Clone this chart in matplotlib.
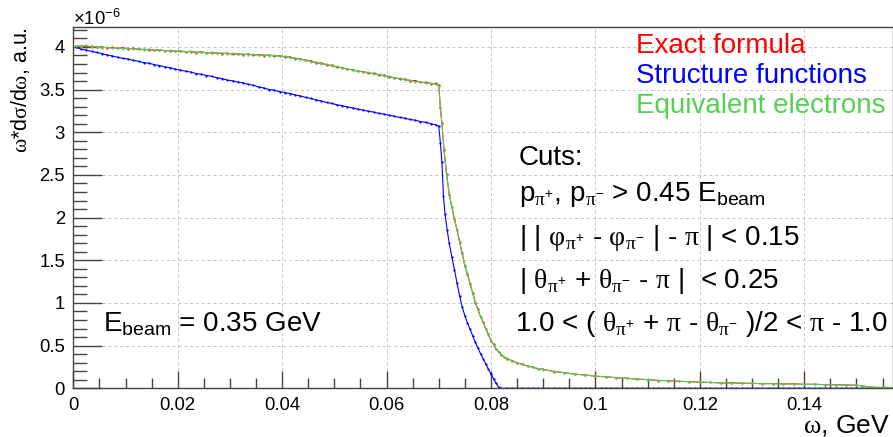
"""
plot.py - omega*dsigma/domega vs omega: exact formula / structure functions /
equivalent electrons (ROOT-like styling).
"""

import numpy as np
import matplotlib
matplotlib.use("Agg")
import matplotlib.pyplot as plt
from matplotlib.ticker import MultipleLocator, FuncFormatter

plt.rcParams["font.family"] = ["Liberation Sans", "DejaVu Sans"]
plt.rcParams["mathtext.fontset"] = "custom"
plt.rcParams["mathtext.rm"] = "Liberation Serif"
plt.rcParams["mathtext.sf"] = "Liberation Sans"
plt.rcParams["mathtext.it"] = "Liberation Sans:italic"
plt.rcParams["mathtext.bf"] = "Liberation Sans:bold"
plt.rcParams["mathtext.default"] = "sf"

# --- data (units of 1e-6, a.u.) ---
# flat part, bin centres 0.0005 ... 0.0695
FLAT_X = np.arange(0.0005, 0.0700, 0.001)

GREEN_FLAT = [4.012, 4.005, 4.018, 3.998, 4.002, 3.990, 3.996, 3.985, 3.992, 3.980,
              3.984, 3.975, 3.978, 3.968, 3.974, 3.962, 3.966, 3.955, 3.961, 3.950,
              3.954, 3.944, 3.949, 3.938, 3.942, 3.931, 3.937, 3.925, 3.930, 3.919,
              3.924, 3.913, 3.918, 3.908, 3.913, 3.903, 3.908, 3.898, 3.900, 3.888,
              3.889, 3.874, 3.871, 3.853, 3.848, 3.828, 3.823, 3.802, 3.797, 3.776,
              3.771, 3.750, 3.746, 3.726, 3.723, 3.704, 3.701, 3.682, 3.679, 3.660,
              3.656, 3.633, 3.632, 3.613, 3.612, 3.592, 3.593, 3.574, 3.576, 3.562]

RED_FLAT = [4.008, 4.010, 4.001, 4.006, 3.995, 4.000, 3.989, 3.994, 3.983, 3.989,
            3.977, 3.983, 3.972, 3.970, 3.966, 3.960, 3.969, 3.953, 3.957, 3.948,
            3.952, 3.941, 3.946, 3.934, 3.945, 3.928, 3.932, 3.929, 3.921, 3.927,
            3.915, 3.921, 3.910, 3.916, 3.905, 3.911, 3.899, 3.905, 3.893, 3.896,
            3.882, 3.882, 3.864, 3.861, 3.841, 3.836, 3.815, 3.810, 3.789, 3.784,
            3.763, 3.758, 3.738, 3.734, 3.715, 3.712, 3.693, 3.690, 3.671, 3.668,
            3.646, 3.641, 3.624, 3.622, 3.603, 3.606, 3.585, 3.584, 3.569, 3.572]

BLUE_FLAT = [3.995, 3.975, 3.962, 3.948, 3.936, 3.922, 3.906, 3.893, 3.881, 3.866,
             3.858, 3.842, 3.831, 3.816, 3.809, 3.793, 3.781, 3.766, 3.757, 3.740,
             3.729, 3.716, 3.706, 3.688, 3.681, 3.664, 3.656, 3.639, 3.629, 3.611,
             3.603, 3.588, 3.579, 3.561, 3.551, 3.531, 3.519, 3.501, 3.493, 3.476,
             3.466, 3.454, 3.437, 3.426, 3.408, 3.396, 3.378, 3.366, 3.349, 3.338,
             3.322, 3.312, 3.296, 3.286, 3.270, 3.261, 3.246, 3.237, 3.222, 3.213,
             3.198, 3.189, 3.174, 3.165, 3.150, 3.141, 3.126, 3.116, 3.099, 3.087]

# threshold drop and tail (exact formula / equivalent electrons)
TAIL_X = [0.0700, 0.0703, 0.0706, 0.0710, 0.0715, 0.0720, 0.0725, 0.0730, 0.0735, 0.0740,
          0.0745, 0.0750, 0.0755, 0.0760, 0.0765, 0.0770, 0.0775, 0.0780, 0.0785, 0.0790,
          0.0795, 0.0800, 0.0805, 0.0810, 0.0815, 0.0820, 0.0825, 0.0830,
          0.0840, 0.0850, 0.0860, 0.0870, 0.0880, 0.0890, 0.0900,
          0.092, 0.094, 0.096, 0.098, 0.100, 0.102, 0.104, 0.106, 0.108, 0.110,
          0.112, 0.114, 0.116, 0.118, 0.120, 0.122, 0.124, 0.126, 0.128, 0.130,
          0.132, 0.134, 0.136, 0.138, 0.140, 0.142, 0.144, 0.146, 0.148, 0.150,
          0.151, 0.152, 0.153, 0.155, 0.157]

GREEN_TAIL = [3.540, 3.300, 3.100, 2.800, 2.500, 2.280, 2.120, 1.990, 1.850, 1.720,
              1.570, 1.440, 1.330, 1.230, 1.110, 1.010, 0.920, 0.840, 0.770, 0.700,
              0.630, 0.560, 0.510, 0.460, 0.420, 0.395, 0.370, 0.350,
              0.322, 0.300, 0.280, 0.262, 0.246, 0.232, 0.220,
              0.199, 0.182, 0.168, 0.155, 0.144, 0.134, 0.125, 0.117, 0.109, 0.100,
              0.094, 0.088, 0.082, 0.077, 0.072, 0.068, 0.065, 0.062, 0.060, 0.057,
              0.055, 0.053, 0.051, 0.049, 0.047, 0.045, 0.043, 0.041, 0.039, 0.035,
              0.030, 0.020, 0.012, 0.010, 0.009]

RED_TAIL = [3.550, 3.290, 3.110, 2.790, 2.510, 2.270, 2.130, 1.980, 1.860, 1.710,
            1.580, 1.430, 1.340, 1.220, 1.120, 1.000, 0.930, 0.835, 0.775, 0.695,
            0.635, 0.555, 0.515, 0.455, 0.425, 0.390, 0.372, 0.347,
            0.325, 0.297, 0.283, 0.259, 0.249, 0.229, 0.222,
            0.196, 0.184, 0.165, 0.157, 0.141, 0.136, 0.122, 0.119, 0.106, 0.102,
            0.091, 0.090, 0.080, 0.079, 0.070, 0.069, 0.063, 0.064, 0.059, 0.058,
            0.054, 0.056, 0.051, 0.052, 0.047, 0.048, 0.042, 0.044, 0.039, 0.036,
            0.029, 0.019, 0.011, 0.010, 0.009]

# structure functions: drop to zero at ~0.082
BLUE_TAIL_X = [0.0700, 0.0703, 0.0706, 0.0709, 0.0712, 0.0716, 0.0720, 0.0725, 0.0730, 0.0735,
               0.0740, 0.0745, 0.0750, 0.0755, 0.0760, 0.0765, 0.0770, 0.0775, 0.0780, 0.0785,
               0.0790, 0.0795, 0.0800, 0.0805, 0.0810, 0.0815, 0.0820]
BLUE_TAIL = [3.070, 2.880, 2.650, 2.250, 2.040, 1.860, 1.700, 1.540, 1.390, 1.230,
             1.080, 0.950, 0.850, 0.765, 0.690, 0.615, 0.540, 0.470, 0.405, 0.345,
             0.285, 0.225, 0.165, 0.110, 0.060, 0.010, 0.000]
BLUE_ZERO_X = np.arange(0.083, 0.1575, 0.001)
BLUE_ZERO = [0.0] * len(BLUE_ZERO_X)

LEGEND = ["Exact formula", "Structure functions", "Equivalent electrons"]
RED, BLUE, GREEN = "#ff0000", "#0000ff", "#55d055"

W, H = 893, 437
BIG = 20


def fx(px):
    return px / W


def fy(py):
    return 1 - py / H


fig = plt.figure(figsize=(W / 100, H / 100), dpi=100)
ax = fig.add_axes([fx(73.3), fy(388.3), fx(W - 73.3), (388.3 - 27.3) / H])

x_rg = np.concatenate([FLAT_X, TAIL_X])
x_b = np.concatenate([FLAT_X, BLUE_TAIL_X, BLUE_ZERO_X])
kw = dict(lw=0.8, marker="o", ms=1.6, mew=0)
ax.plot(x_b, BLUE_FLAT + BLUE_TAIL + BLUE_ZERO, color=BLUE, **kw)
ax.plot(x_rg, RED_FLAT + RED_TAIL, color=RED, **kw)
ax.plot(x_rg, GREEN_FLAT + GREEN_TAIL, color=GREEN, **kw)

ax.set_xlim(0, 0.157)
ax.set_ylim(0, 4.23)
ax.xaxis.set_major_locator(MultipleLocator(0.02))
ax.xaxis.set_minor_locator(MultipleLocator(0.005))
ax.yaxis.set_major_locator(MultipleLocator(0.5))
ax.yaxis.set_minor_locator(MultipleLocator(0.1))
fmt = FuncFormatter(lambda v, p: f"{v:g}")
ax.xaxis.set_major_formatter(fmt)
ax.yaxis.set_major_formatter(fmt)

ax.grid(True, which="major", color="#c4c4c4", lw=0.7, ls=(0, (3, 3)))
ax.set_axisbelow(True)
ax.tick_params(axis="both", which="both", direction="in", colors="#444444",
               labelcolor="black", labelsize=13.3, width=1)
ax.tick_params(axis="y", which="major", length=21, pad=6)
ax.tick_params(axis="y", which="minor", length=10)
ax.tick_params(axis="x", which="major", length=12, pad=6)
ax.tick_params(axis="x", which="minor", length=7)
for s in ax.spines.values():
    s.set_color("#444444")
    s.set_linewidth(1)

# axis titles, ROOT style
fig.text(fx(73), fy(25), r"$\times10^{-6}$", fontsize=13.3, va="baseline", ha="left")
fig.text(fx(21), fy(27), r"$\mathrm{\omega}$*d$\mathrm{\sigma}$/d$\mathrm{\omega}$, a.u.",
         rotation=90, fontsize=15.5, ha="center", va="top")
fig.text(fx(890), fy(433), r"$\mathrm{\omega}$, GeV", fontsize=19, ha="right", va="baseline")

# legend as coloured text
for txt, col, yb in zip(LEGEND, [RED, BLUE, GREEN], [53, 83, 113]):
    fig.text(fx(636), fy(yb), txt, color=col, fontsize=BIG, va="baseline")

# cuts
cuts = [
    (519, 165, "Cuts:"),
    (519, 201, r"$p_{\mathrm{\pi}^{+}}$, $p_{\mathrm{\pi}^{-}}$ > 0.45 $E_{beam}$"),
    (519, 245, r"| | $\mathrm{\varphi}_{\mathrm{\pi}^{+}}$ - $\mathrm{\varphi}_{\mathrm{\pi}^{-}}$ | - $\mathrm{\pi}$ | < 0.15"),
    (519, 288, r"| $\mathrm{\theta}_{\mathrm{\pi}^{+}}$ + $\mathrm{\theta}_{\mathrm{\pi}^{-}}$ - $\mathrm{\pi}$ |  < 0.25"),
    (515, 331, r"1.0 < ( $\mathrm{\theta}_{\mathrm{\pi}^{+}}$ + $\mathrm{\pi}$ - $\mathrm{\theta}_{\mathrm{\pi}^{-}}$ )/2 < $\mathrm{\pi}$ - 1.0"),
]
for px, py, txt in cuts:
    fig.text(fx(px), fy(py), txt, fontsize=BIG, va="baseline", ha="left")

fig.text(fx(103), fy(332), r"$E_{beam}$ = 0.35 GeV", fontsize=BIG, va="baseline", ha="left")

fig.savefig("out.png", dpi=100)
